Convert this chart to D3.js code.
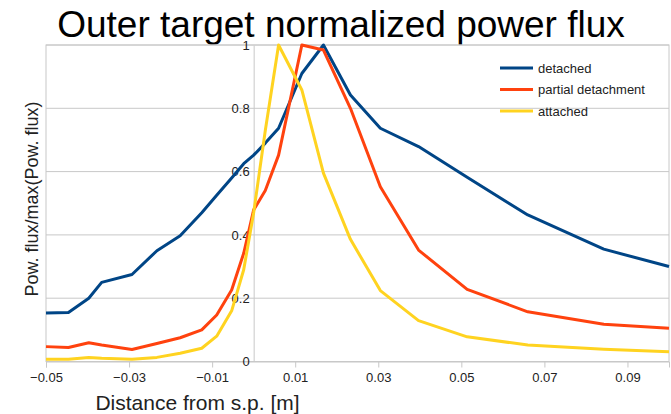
<!DOCTYPE html>
<html>
<head>
<meta charset="utf-8">
<script src="https://cdn.jsdelivr.net/npm/d3@7"></script>
<style>
  body { margin: 0; background: #fff; }
  svg { display: block; font-family: "Liberation Sans", Arial, sans-serif; }
</style>
</head>
<body>
<div id="chart"></div>
<script>
const width = 671;
const height = 414;

// distance from strike point [m]
const distance = [-0.05, -0.0446, -0.0397, -0.0366, -0.0293, -0.0233, -0.0177, -0.0125, -0.0089, -0.0053,
  -0.0024, 0.0, 0.0028, 0.006, 0.0116, 0.0168, 0.0233, 0.0305, 0.0397, 0.0514, 0.066, 0.0843, 0.1];

const detached = [0.153, 0.155, 0.2, 0.25, 0.275, 0.35, 0.397, 0.47, 0.525, 0.58,
  0.625, 0.652, 0.69, 0.737, 0.91, 1.0, 0.842, 0.737, 0.679, 0.582, 0.463, 0.355, 0.3];

const partial = [0.047, 0.044, 0.059, 0.052, 0.038, 0.057, 0.075, 0.1, 0.147, 0.226,
  0.342, 0.479, 0.54, 0.652, 1.0, 0.984, 0.8, 0.552, 0.352, 0.228, 0.157, 0.118, 0.105];

const attached = [0.007, 0.007, 0.013, 0.01, 0.007, 0.013, 0.026, 0.042, 0.08, 0.16,
  0.29, 0.47, 0.73, 1.0, 0.858, 0.595, 0.386, 0.224, 0.129, 0.078, 0.052, 0.0385, 0.031];

const seriesNames = ["detached", "partial detachment", "attached"];
const seriesColors = ["#004586", "#ff420e", "#ffd320"];
const xTicks = [-0.05, -0.03, -0.01, 0.01, 0.03, 0.05, 0.07, 0.09];
const yTicks = [0, 0.2, 0.4, 0.6, 0.8, 1];

const series = [detached, partial, attached].map((vals, i) => ({
  name: seriesNames[i],
  color: seriesColors[i],
  points: vals.map((v, j) => [distance[j], v])
}));

const plotLeft = 46, plotRight = 669, plotTop = 45, plotBottom = 361.5;

const x = d3.scaleLinear().domain([-0.05, 0.1]).range([plotLeft, plotRight]);
const y = d3.scaleLinear().domain([0, 1]).range([plotBottom, plotTop]);

const svg = d3.select("#chart")
  .append("svg")
  .attr("width", width)
  .attr("height", height);

// title
svg.append("text")
  .attr("x", 341)
  .attr("y", 37)
  .attr("text-anchor", "middle")
  .attr("font-size", "37px")
  .attr("fill", "#000")
  .text("Outer target normalized power flux");

// plot frame
svg.append("rect")
  .attr("x", plotLeft)
  .attr("y", plotTop)
  .attr("width", plotRight - plotLeft)
  .attr("height", plotBottom - plotTop)
  .attr("fill", "none")
  .attr("stroke", "#c8c8c8");

// horizontal grid
svg.selectAll(".grid")
  .data(yTicks)
  .enter()
  .append("line")
  .attr("x1", plotLeft)
  .attr("x2", plotRight)
  .attr("y1", d => y(d))
  .attr("y2", d => y(d))
  .attr("stroke", "#c8c8c8");

// x axis at y=0, with ticks below
const xAxis = d3.axisBottom(x)
  .tickValues(xTicks)
  .tickSize(6)
  .tickPadding(5)
  .tickFormat(d => d3.format(".2f")(d));

const gx = svg.append("g")
  .attr("transform", `translate(0,${y(0)})`)
  .call(xAxis);
gx.select(".domain").attr("stroke", "#c8c8c8");
gx.selectAll(".tick line").attr("stroke", "#c8c8c8");
gx.selectAll(".tick text")
  .attr("font-family", "Liberation Sans, Arial, sans-serif")
  .attr("font-size", "13px")
  .attr("fill", "#222");

// y axis crossing at x=0
const yAxis = d3.axisLeft(y)
  .tickValues(yTicks)
  .tickSize(0)
  .tickPadding(4)
  .tickFormat(d => d3.format("")(d));

const gy = svg.append("g")
  .attr("transform", `translate(${x(0)},0)`)
  .call(yAxis);
gy.select(".domain").attr("stroke", "#c8c8c8");
gy.selectAll(".tick text")
  .attr("font-family", "Liberation Sans, Arial, sans-serif")
  .attr("font-size", "13px")
  .attr("fill", "#222");

// lines
const line = d3.line()
  .x(d => x(d[0]))
  .y(d => y(d[1]));

svg.selectAll(".series")
  .data(series)
  .enter()
  .append("path")
  .attr("d", d => line(d.points))
  .attr("fill", "none")
  .attr("stroke", d => d.color)
  .attr("stroke-width", 3)
  .attr("stroke-linejoin", "round");

// axis titles
svg.append("text")
  .attr("x", 197.5)
  .attr("y", 410)
  .attr("text-anchor", "middle")
  .attr("font-size", "21px")
  .attr("fill", "#222")
  .text("Distance from s.p. [m]");

svg.append("text")
  .attr("transform", "translate(38,199) rotate(-90)")
  .attr("text-anchor", "middle")
  .attr("font-size", "18px")
  .attr("fill", "#222")
  .text("Pow. flux/max(Pow. flux)");

// legend
const legend = svg.append("g");
series.forEach((s, i) => {
  legend.append("line")
    .attr("x1", 500)
    .attr("x2", 533)
    .attr("y1", 68 + i * 21.5)
    .attr("y2", 68 + i * 21.5)
    .attr("stroke", s.color)
    .attr("stroke-width", 3);

  legend.append("text")
    .attr("x", 538)
    .attr("y", 68 + i * 21.5 + 4.5)
    .attr("font-size", "13px")
    .attr("fill", "#222")
    .text(s.name);
});
</script>
</body>
</html>
